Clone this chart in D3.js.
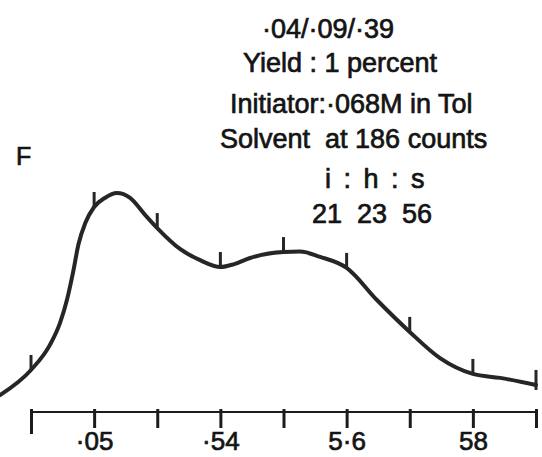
<!DOCTYPE html>
<html>
<head>
<meta charset="utf-8">
<script src="https://cdn.jsdelivr.net/npm/d3@7"></script>
<style>
  html, body { margin: 0; padding: 0; background: #ffffff; }
  svg { display: block; }
  text { font-family: "Liberation Sans", Arial, Helvetica, sans-serif; fill: #141414; stroke: #141414; stroke-width: 0.7px; }
</style>
</head>
<body>
<svg id="chart" width="542" height="457"></svg>
<script>
// Fraction positions along the collector axis (0..8) and their tick labels
const fractions = [0, 1, 2, 3, 4, 5, 6, 7, 8];
const tickLabels = ["", "·05", "", "·54", "", "5·6", "", "58", ""];

// Trace of the recorder output: position along axis, relative response
const tracePos = [-0.49, 0, 0.30, 0.46, 0.57, 0.67, 0.75, 0.86, 1, 1.17, 1.36, 1.57, 1.81, 2, 2.36, 2.68, 3, 3.22, 3.47, 4, 4.26, 4.58, 5, 5.48, 6, 6.48, 7, 7.43, 8];
const traceVal = [7.7, 19.1, 30.5, 40.5, 51.0, 64.0, 76.0, 85.9, 93.2, 97.3, 99.5, 97.3, 89.5, 83.6, 74.1, 69.0, 65.9, 67.2, 70.0, 72.7, 72.9, 70.5, 65.5, 50.9, 36.4, 24.5, 17.3, 15.5, 12.3];

// Header notes
const headerLines = ["·04/·09/·39", "Yield : 1 percent", "Initiator:·068M in Tol", "Solvent  at 186 counts"];
const ratioNames = "i : h : s";
const ratioValues = "21  23  56";
const panelLetter = "F";

const svg = d3.select("#chart");

const x = d3.scaleLinear().domain([0, 8]).range([31, 536]);
const y = d3.scaleLinear().domain([0, 100]).range([412, 192]);

// Axis along the bottom
const axis = d3.axisBottom(x)
  .tickValues(fractions)
  .tickSize(18)
  .tickPadding(6)
  .tickFormat((d, i) => tickLabels[i]);

const gAxis = svg.append("g").attr("transform", "translate(0,410)").call(axis);
gAxis.select(".domain").attr("d", `M${x(0)},2H${x(8)}`).attr("stroke", "#1c1c1c").attr("stroke-width", 2.2);
gAxis.selectAll(".tick line").attr("stroke", "#1c1c1c").attr("stroke-width", 3).attr("y1", -1);
gAxis.select(".tick line").attr("y2", 24);
gAxis.selectAll(".tick text")
  .attr("font-size", 26)
  .style("font-family", '"Liberation Sans", Arial, sans-serif')
  .attr("fill", "#141414")
  .attr("dy", "0.6em");

// Trace
const points = tracePos.map((p, i) => [p, traceVal[i]]);
const line = d3.line()
  .x(d => x(d[0]))
  .y(d => y(d[1]))
  .curve(d3.curveMonotoneX);

svg.append("path")
  .datum(points)
  .attr("d", line)
  .attr("fill", "none")
  .attr("stroke", "#262626")
  .attr("stroke-width", 4)
  .attr("stroke-linecap", "round")
  .attr("stroke-linejoin", "round");

// Fraction marks on the trace
const marks = points.filter(d => fractions.includes(d[0]));
svg.append("g").selectAll("line")
  .data(marks)
  .join("line")
  .attr("x1", d => x(d[0]))
  .attr("x2", d => x(d[0]))
  .attr("y1", d => y(d[1]) + (d[0] === 8 ? 5 : 0))
  .attr("y2", d => y(d[1]) - 15)
  .attr("stroke", "#262626")
  .attr("stroke-width", 3);

// Notes
const noteX = [262, 243, 230, 220];
const noteY = [38, 72, 113, 148];
svg.append("g").selectAll("text")
  .data(headerLines)
  .join("text")
  .attr("x", (d, i) => noteX[i])
  .attr("y", (d, i) => noteY[i])
  .attr("font-size", 27)
  .style("white-space", "pre")
  .text(d => d);

svg.append("text")
  .attr("x", 325).attr("y", 188)
  .attr("font-size", 27)
  .attr("word-spacing", 5)
  .style("white-space", "pre")
  .text(ratioNames);

svg.append("text")
  .attr("x", 312).attr("y", 223)
  .attr("font-size", 27)
  .style("white-space", "pre")
  .text(ratioValues);

svg.append("text")
  .attr("x", 16).attr("y", 165)
  .attr("font-size", 25)
  .text(panelLetter);
</script>
</body>
</html>
